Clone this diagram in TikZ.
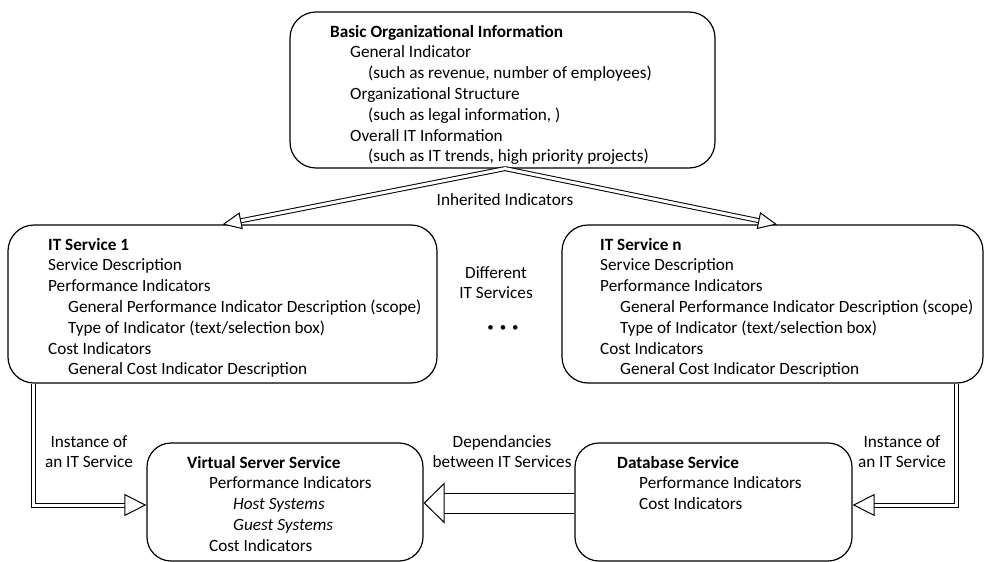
\documentclass[tikz,border=0pt]{standalone}
\usepackage{fontspec}
\setmainfont{Carlito}
\usetikzlibrary{arrows.meta}
\tikzset{
  box/.style={draw, line width=1.2pt, rounded corners=26pt, inner sep=0pt},
  txt/.style={anchor=north west, inner sep=0pt, align=left, font=\fontsize{17.2}{20.8}\selectfont},
  lbl/.style={anchor=north, inner sep=0pt, align=center, font=\fontsize{17.2}{20.8}\selectfont},
  inh/.style={double, double distance=3pt, line width=1pt,
     -{Triangle[fill=white, length=19pt, width=17pt, line width=1pt]}},
  inst/.style={double, double distance=3pt, line width=1pt,
     -{Triangle[fill=white, length=22pt, width=22pt, line width=1pt]}},
  dep/.style={double, double distance=19pt, line width=1pt,
     -{Triangle[fill=white, length=21pt, width=41pt, line width=1pt]}},
}
\begin{document}
\begin{tikzpicture}[x=1pt, y=-1pt]
\useasboundingbox (0,0) rectangle (985,562);
% boxes
\node[box, minimum width=425pt, minimum height=156pt] (top) at (502.5,90) {};
\node[box, minimum width=429pt, minimum height=158pt] (it1) at (222.5,304) {};
\node[box, minimum width=421pt, minimum height=158pt] (itn) at (772.5,304) {};
\node[box, minimum width=276pt, minimum height=118pt, rounded corners=24pt] (virt) at (285,502) {};
\node[box, minimum width=277pt, minimum height=118pt, rounded corners=24pt] (db) at (713.5,502) {};
% box texts
\node[txt] (ttop) at (330,22.4) {\strut\textbf{Basic Organizational Information}\\
\hspace*{20pt}General Indicator\\
\hspace*{38pt}(such as revenue, number of employees)\\
\hspace*{20pt}Organizational Structure\\
\hspace*{38pt}(such as legal information, )\\
\hspace*{20pt}Overall IT Information\\
\hspace*{38pt}(such as IT trends, high priority projects)};
\node[txt] (tit1) at (48,235.4) {\strut\textbf{IT Service 1}\\
Service Description\\
Performance Indicators\\
\hspace*{20pt}General Performance Indicator Description (scope)\\
\hspace*{20pt}Type of Indicator (text/selection box)\\
Cost Indicators\\
\hspace*{20pt}General Cost Indicator Description};
\node[txt] (titn) at (600,235.4) {\strut\textbf{IT Service n}\\
Service Description\\
Performance Indicators\\
\hspace*{20pt}General Performance Indicator Description (scope)\\
\hspace*{20pt}Type of Indicator (text/selection box)\\
Cost Indicators\\
\hspace*{20pt}General Cost Indicator Description};
\node[txt] (tvirt) at (187,453.4) {\strut\textbf{Virtual Server Service}\\
\hspace*{22pt}Performance Indicators\\
\hspace*{46pt}\textit{Host Systems}\\
\hspace*{46pt}\textit{Guest Systems}\\
\hspace*{22pt}Cost Indicators};
\node[txt] (tdb) at (617,453.4) {\strut\textbf{Database Service}\\
\hspace*{22pt}Performance Indicators\\
\hspace*{22pt}Cost Indicators};
% free labels
\node[lbl] (linh) at (505,190.4) {\strut Inherited Indicators};
\node[lbl] (ldiff) at (496,263.4) {\strut Different\\IT Services};
\node[anchor=base, inner sep=0pt, font=\fontsize{13}{16}\selectfont] (ldots) at (503,331) {\textbullet\hspace{6pt}\textbullet\hspace{6pt}\textbullet};
\node[lbl] (linst1) at (89,432.4) {\strut Instance of\\an IT Service};
\node[lbl] (linst2) at (902,432.4) {\strut Instance of\\an IT Service};
\node[lbl] (ldep) at (502,432.4) {\strut Dependancies\\between IT Services};
% connectors
\coordinate (apex) at ([xshift=2.5pt]top.south);
\draw[inh] (apex) -- (it1.north);
\draw[inh] (apex) -- ([xshift=4.5pt]itn.north);
\draw[inst] ([xshift=26pt]it1.south west) |- ([yshift=-3pt]virt.west);
\draw[inst] ([xshift=-27.5pt]itn.south east) |- ([yshift=-3pt]db.east);
\draw[dep] ([yshift=-1pt]db.west) -- ([yshift=-1pt]virt.east);
\end{tikzpicture}
\end{document}
